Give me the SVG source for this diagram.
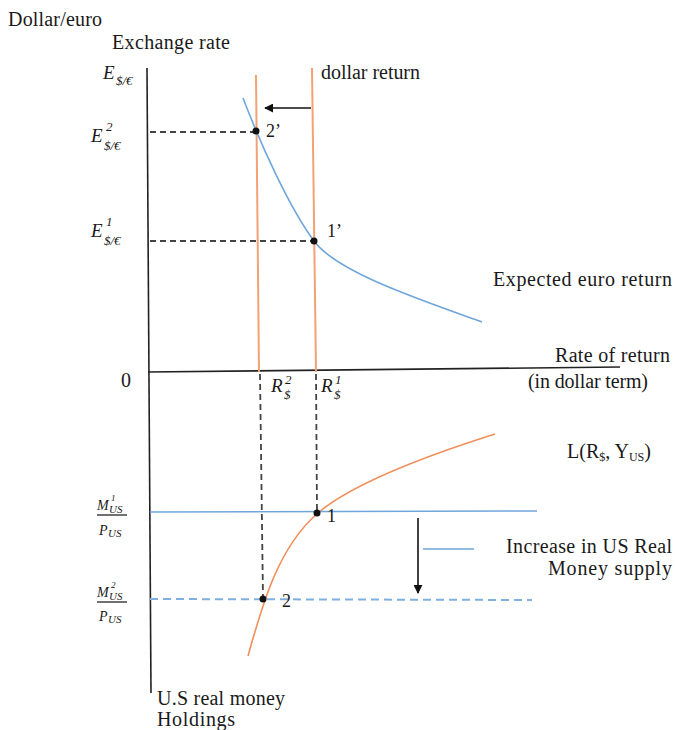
<svg xmlns="http://www.w3.org/2000/svg" width="675" height="730" viewBox="0 0 675 730">
<style>
text { font-family: "Liberation Serif", "Times New Roman", serif; fill: #1a1a1a; }
.lbl { font-size: 20px; }
.num { font-size: 18px; }
.math { font-style: italic; font-size: 19px; }
.sub { font-style: italic; font-size: 13px; }
.mm { font-style: italic; font-size: 14px; }
.ms { font-style: italic; font-size: 9px; }
.mu { font-style: italic; font-size: 11px; }
.axis { stroke: #222; stroke-width: 1.6; fill: none; }
.orange { stroke: #F2A273; stroke-width: 2; fill: none; }
.ocurve { stroke: #F08F5A; stroke-width: 1.6; fill: none; }
.blue { stroke: #6FA6DC; stroke-width: 1.6; fill: none; }
.bdash { stroke: #7FB0E0; stroke-width: 2; fill: none; stroke-dasharray: 8 5; }
.kdash { stroke: #444; stroke-width: 1.8; fill: none; stroke-dasharray: 6 4; }
.arrow { stroke: #111; stroke-width: 1.6; fill: none; }
.frac { stroke: #222; stroke-width: 1.3; }
.dot { fill: #111; }
</style>
<defs>
<marker id="ah" viewBox="0 0 10 10" refX="9" refY="5" markerWidth="9" markerHeight="9" markerUnits="userSpaceOnUse" orient="auto">
<path d="M0,0 L10,5 L0,10 z" fill="#111"/>
</marker>
</defs>

<g id="axes">
<line class="axis" x1="147" y1="68" x2="151" y2="693"/>
<line class="axis" x1="148" y1="372" x2="620" y2="367"/>
</g>

<g id="dollar-return-lines">
<line class="orange" x1="256" y1="75" x2="259" y2="372"/>
<line class="orange" x1="312" y1="68" x2="316" y2="372"/>
</g>

<g id="expected-euro-return">
<path class="blue" d="M243,98 C261,145 289,207 314,241 C336,271 412,297 482,322"/>
</g>

<g id="money-demand">
<path class="ocurve" d="M248,656 C262,606 278,547 318,513 C353,483 435,453 495,434"/>
</g>

<g id="money-supply">
<line class="blue" x1="150" y1="512" x2="537" y2="511"/>
<line class="bdash" x1="150" y1="599" x2="532" y2="600"/>
<line class="blue" x1="423" y1="549" x2="474" y2="549"/>
</g>

<g id="connectors">
<line class="kdash" x1="150" y1="132" x2="256" y2="132"/>
<line class="kdash" x1="150" y1="241" x2="314" y2="241"/>
<line class="kdash" x1="260" y1="374" x2="263" y2="599"/>
<line class="kdash" x1="316" y1="374" x2="317" y2="512"/>
<line class="arrow" x1="311" y1="108" x2="265" y2="108" marker-end="url(#ah)"/>
<line class="arrow" x1="418" y1="518" x2="418" y2="593" marker-end="url(#ah)"/>
</g>

<g id="points">
<circle class="dot" cx="256" cy="131" r="3.5"/>
<circle class="dot" cx="314" cy="241" r="3.5"/>
<circle class="dot" cx="317" cy="513" r="3.5"/>
<circle class="dot" cx="263" cy="599" r="3.5"/>
<text class="num" x="266" y="137">2’</text>
<text class="num" x="327" y="237">1’</text>
<text class="num" x="327" y="522">1</text>
<text class="num" x="282" y="607">2</text>
</g>

<g id="axis-labels">
<text class="lbl" x="8" y="26" textLength="94">Dollar/euro</text>
<text class="lbl" x="112" y="49" textLength="118">Exchange rate</text>
<text class="lbl" x="321" y="79" textLength="99">dollar return</text>
<text class="lbl" x="493" y="286" textLength="179">Expected euro return</text>
<text class="lbl" x="555" y="362" textLength="115">Rate of return</text>
<text class="lbl" x="528" y="388" textLength="120">(in dollar term)</text>
<text class="lbl" x="121" y="387">0</text>
<text class="lbl" x="567" y="458">L(R<tspan font-size="12" dy="3">$</tspan><tspan dy="-3">, Y</tspan><tspan font-size="12" dy="3">US</tspan><tspan dy="-3">)</tspan></text>
<text class="lbl" x="672" y="553" text-anchor="end" textLength="166">Increase in US Real</text>
<text class="lbl" x="672" y="575" text-anchor="end" textLength="124">Money supply</text>
<text class="lbl" x="157" y="705" textLength="128">U.S real money</text>
<text class="lbl" x="157" y="726" textLength="78">Holdings</text>
</g>

<g id="exchange-rate-labels">
<text class="math" x="103" y="79">E</text><text class="sub" x="116" y="85">$/€</text>
<text class="math" x="91" y="142">E</text><text class="sub" x="106" y="131">2</text><text class="sub" x="104" y="150">$/€</text>
<text class="math" x="91" y="237">E</text><text class="sub" x="106" y="226">1</text><text class="sub" x="104" y="245">$/€</text>
</g>

<g id="return-labels">
<text class="math" x="271" y="392">R</text><text class="sub" x="285" y="384">2</text><text class="sub" x="284" y="399">$</text>
<text class="math" x="321" y="392">R</text><text class="sub" x="335" y="384">1</text><text class="sub" x="334" y="399">$</text>
</g>

<g id="money-labels">
<text class="mm" x="97" y="510">M</text><text class="ms" x="111" y="501">1</text><text class="mu" x="109" y="513">US</text>
<line class="frac" x1="97" y1="515" x2="127" y2="515"/>
<text class="mm" x="99" y="535">P</text><text class="mu" x="108" y="537">US</text>
<text class="mm" x="97" y="597">M</text><text class="ms" x="111" y="588">2</text><text class="mu" x="109" y="600">US</text>
<line class="frac" x1="97" y1="602" x2="127" y2="602"/>
<text class="mm" x="99" y="621">P</text><text class="mu" x="108" y="623">US</text>
</g>
</svg>
